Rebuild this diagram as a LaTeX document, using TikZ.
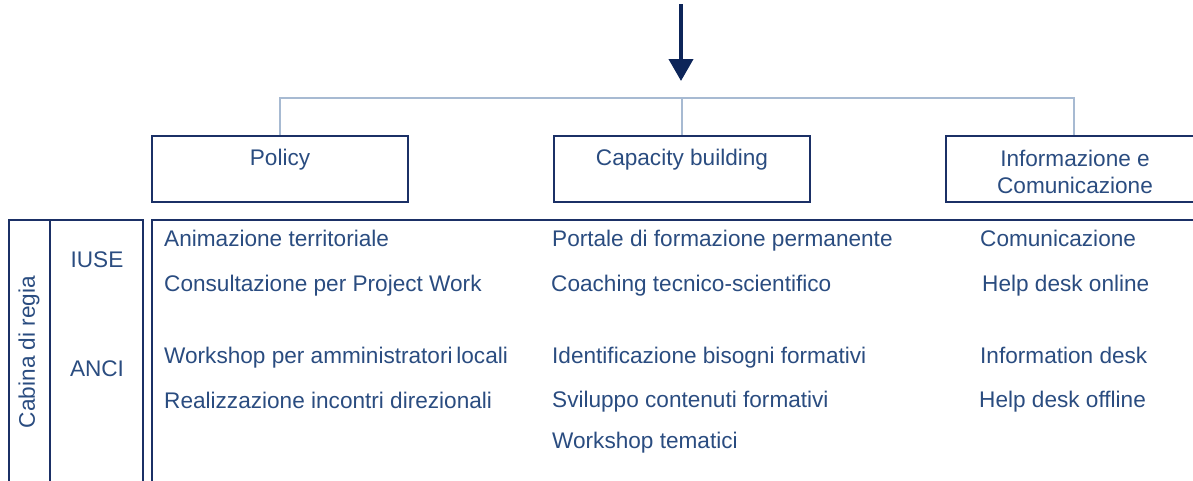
\documentclass[tikz,border=0pt]{standalone}
\usepackage{fontspec}
\setmainfont{Liberation Sans}
\usetikzlibrary{arrows.meta}
\definecolor{navy}{HTML}{1B3066}
\definecolor{arrowc}{HTML}{0D2559}
\definecolor{txt}{HTML}{2A4C80}
\definecolor{conn}{HTML}{A7BAD2}
\begin{document}
\begin{tikzpicture}[x=1pt,y=-1pt,
  every node/.style={font=\fontsize{22.6}{27}\selectfont, text=txt},
  headbox/.style={draw=navy, line width=1.8pt, minimum width=256pt, minimum height=66pt, inner sep=0pt},
  frame/.style={draw=navy, line width=1.8pt, inner sep=0pt},
  item/.style={anchor=base west, inner sep=0pt},
  conn/.style={draw=conn, line width=1.4pt},
  bigarrow/.style={draw=arrowc, line width=4pt, -{Triangle[width=24pt,length=22pt]}}]
\useasboundingbox (0,0) rectangle (1193,480);
\clip (0,0) rectangle (1193,480);
% header boxes
\node[headbox] (policy) at (280,169) {};
\node[headbox] (cap) at (682,169) {};
\node[headbox] (info) at (1074,169) {};
\node[anchor=base, inner sep=0pt] (policyT) at (280,165) {Policy};
\node[anchor=base, inner sep=0pt] (capT) at (682,165) {Capacity building};
\node[anchor=base, inner sep=0pt] (infoT1) at (1075,166) {Informazione e};
\node[anchor=base, inner sep=0pt] (infoT2) at (1075,193) {Comunicazione};
% arrow
\coordinate (atop) at (681,4);
\coordinate (atip) at (681,81);
\draw[bigarrow] (atop) -- (atip);
% tree connector
\coordinate (junc) at (682,98);
\draw[conn] (policy.north) -- (policy.north |- junc) -- (info.north |- junc) -- (info.north);
\draw[conn] (cap.north |- junc) -- (cap.north);
% lower frames
\node[frame, minimum width=41pt, minimum height=290pt] (cabina) at (29.5,365) {};
\node[frame, minimum width=93pt, minimum height=290pt] (enti) at (96.5,365) {};
\node[frame, minimum width=1060pt, minimum height=290pt] (main) at (682,365) {};
\node[rotate=90, inner sep=0pt] (cabT) at (29,352) {Cabina di regia};
\node[anchor=base, inner sep=0pt] (iuse) at (97,267) {IUSE};
\node[anchor=base, inner sep=0pt] (anci) at (97,376) {ANCI};
% items
\node[item] (p1) at (164,246) {Animazione territoriale};
\node[item] (p2) at (164,291) {Consultazione per Project Work};
\node[item] (p3) at (164,363) {Workshop per amministratori\,locali};
\node[item] (p4) at (164,408) {Realizzazione incontri direzionali};
\node[item] (c1) at (552,246) {Portale di formazione permanente};
\node[item] (c2) at (551,291) {Coaching tecnico-scientifico};
\node[item] (c3) at (552,363) {Identificazione bisogni formativi};
\node[item] (c4) at (552,407) {Sviluppo contenuti formativi};
\node[item] (c5) at (552,448) {Workshop tematici};
\node[item] (i1) at (980,246) {Comunicazione};
\node[item] (i2) at (982,291) {Help desk online};
\node[item] (i3) at (980,363) {Information desk};
\node[item] (i4) at (979,407) {Help desk offline};
\end{tikzpicture}
\end{document}
